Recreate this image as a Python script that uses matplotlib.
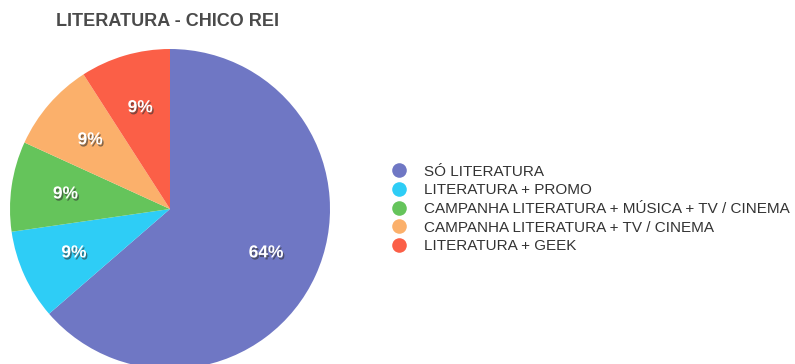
import matplotlib.pyplot as plt
import matplotlib.patheffects as pe
from matplotlib.lines import Line2D

plt.rcParams['font.family'] = ['Liberation Sans', 'DejaVu Sans']

labels = ["SÓ LITERATURA", "LITERATURA + PROMO",
          "CAMPANHA LITERATURA + MÚSICA + TV / CINEMA",
          "CAMPANHA LITERATURA + TV / CINEMA", "LITERATURA + GEEK"]
values = [7, 1, 1, 1, 1]
colors = ["#6f77c4", "#2ecdf6", "#65c45b", "#fbb06b", "#fb5f47"]

fig = plt.figure(figsize=(7.95, 3.64), dpi=100)
# pie axes: center ~ (170, 209) px, radius ~160 px
ax = fig.add_axes([10/795, (364-369)/364, 320/795, 320/364])
wedges, texts, autotexts = ax.pie(values, colors=colors, startangle=90, counterclock=False,
                                  autopct='%1.0f%%', pctdistance=0.66,
                                  wedgeprops=dict(linewidth=0))
ax.set_xlim(-1, 1)
ax.set_ylim(-1, 1)
ax.set_aspect('equal')
for w in wedges:
    w.set_clip_on(False)
for t in autotexts:
    t.set_color('white')
    t.set_fontsize(12.5)
    t.set_fontweight('bold')
    t.set_path_effects([pe.withSimplePatchShadow(offset=(1, -1.5), shadow_rgbFace='#333333', alpha=0.6)])

fig.text(168/795, 1 - 22/364, "LITERATURA - CHICO REI", ha='center', va='center',
         fontsize=13, fontweight='bold', color='#4a4a4a')

handles = [Line2D([], [], marker='o', linestyle='', markersize=10.5, markerfacecolor=c,
                  markeredgewidth=0) for c in colors]
fig.legend(handles, labels, loc='center left', bbox_to_anchor=(384/795, 1 - 209/364),
           frameon=False, fontsize=11, handletextpad=1.1, labelspacing=0.3,
           handlelength=1.0, labelcolor='#333333', borderpad=0)

fig.savefig("out.png", dpi=100)
